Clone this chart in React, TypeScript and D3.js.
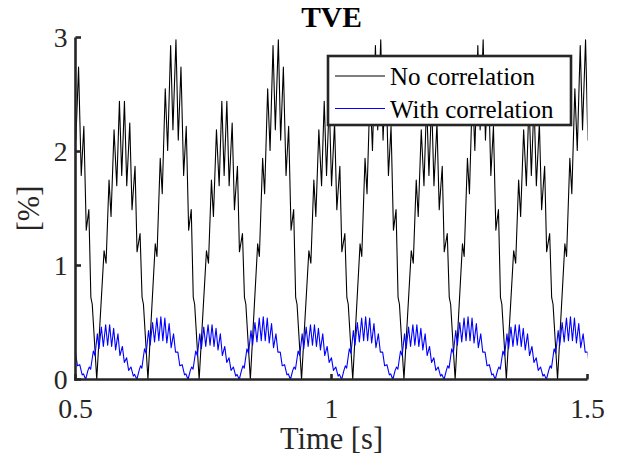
import { scaleLinear, line } from 'd3';

const width = 622;
const height = 467;
// plot box in px
const plot = { left: 75.5, right: 587.5, top: 37.5, bottom: 379.5 };

const timeDomain = [0.5, 1.5];
const valueDomain = [0, 3];
const timeTicks = [0.5, 1, 1.5];
const valueTicks = [0, 1, 2, 3];

// black trace: time of each zero trough (s) and which hump follows it
const noCorrStarts = [0.4415, 0.5415, 0.6415, 0.7415, 0.8415, 0.9415, 1.0415, 1.1415, 1.2415, 1.3415, 1.4415];
const noCorrKinds = ['B', 'A', 'B', 'A', 'B', 'A', 'B', 'A', 'B', 'A', 'B'];
// [ms after trough, %]
const noCorrShapeA = [
  [0, 0], [14.3, 1.13], [18.2, 1.02], [24.0, 1.75], [27.9, 1.43], [33.8, 2.19], [39.1, 1.7],
  [44.3, 2.44], [48.8, 1.79], [54.1, 2.44], [58.6, 1.7], [64.5, 2.25], [68.9, 1.49],
  [74.8, 1.87], [78.7, 1.12], [84.6, 1.28], [88.5, 0.72], [91.2, 0.66], [100, 0],
];
const noCorrShapeB = [
  [0, 0], [14.3, 1.19], [17.6, 1.08], [24.0, 1.94], [27.9, 1.63], [33.8, 2.55], [38.5, 2.01],
  [44.3, 2.93], [48.8, 2.19], [54.7, 2.98], [59.2, 2.1], [64.5, 2.74], [69.7, 1.79],
  [74.8, 2.22], [79.5, 1.31], [84.6, 1.49], [88.5, 0.72], [91.2, 0.66], [100, 0],
];

// blue trace: time of each zero dip (s) and hump size after it
const withCorrStarts = [0.4198, 0.5198, 0.6198, 0.7198, 0.8198, 0.9198, 1.0198, 1.1198, 1.2198, 1.3198, 1.4198];
const withCorrKinds = ['H', 'L', 'H', 'L', 'H', 'L', 'H', 'L', 'H', 'L', 'H'];
const withCorrShapeLow = [
  [0, 0], [4.5, 0.08], [7.2, 0.11], [9.8, 0.09], [15.0, 0.25], [18.2, 0.21], [22.9, 0.4],
  [26.0, 0.27], [30.7, 0.46], [34.6, 0.29], [39.1, 0.48], [43.0, 0.3], [46.9, 0.48],
  [50.8, 0.29], [54.7, 0.45], [58.6, 0.26], [63.1, 0.4], [67.0, 0.21], [71.7, 0.29],
  [75.6, 0.15], [80.1, 0.19], [84.0, 0.08], [88.5, 0.11], [93.2, 0.03], [95.7, 0.045], [100, 0],
];
const withCorrShapeHigh = [
  [0, 0], [4.5, 0.08], [7.2, 0.12], [9.8, 0.1], [15.0, 0.27], [18.2, 0.23], [22.9, 0.43],
  [26.0, 0.3], [30.7, 0.5], [34.6, 0.33], [39.1, 0.54], [43.0, 0.34], [46.9, 0.55],
  [50.8, 0.34], [54.7, 0.54], [58.6, 0.32], [63.1, 0.49], [67.0, 0.28], [71.7, 0.4],
  [75.6, 0.24], [80.1, 0.24], [84.0, 0.12], [88.5, 0.13], [93.2, 0.04], [95.7, 0.05], [100, 0],
];

const legendLabels = ['No correlation', 'With correlation'];
const legendColors = ['#000000', '#0000ff'];

const axisColor = '#262626';
const font = '"Liberation Serif", "Times New Roman", serif';

function buildSeries(starts, kinds, shapes) {
  const pts = [];
  starts.forEach((s, i) => {
    const shape = shapes[kinds[i]];
    shape.forEach(([ms, v], j) => {
      if (j === shape.length - 1 && i < starts.length - 1) return;
      pts.push([s + ms / 1000, v]);
    });
  });
  return pts;
}

export default function App() {
  const x = scaleLinear().domain(timeDomain).range([plot.left, plot.right]);
  const y = scaleLinear().domain(valueDomain).range([plot.bottom, plot.top]);

  const noCorr = buildSeries(noCorrStarts, noCorrKinds, { A: noCorrShapeA, B: noCorrShapeB });
  const withCorr = buildSeries(withCorrStarts, withCorrKinds, { L: withCorrShapeLow, H: withCorrShapeHigh });

  const path = line()
    .x((d) => x(d[0]))
    .y((d) => y(d[1]));

  const lg = { x: 328, y: 56, w: 243, h: 69 };

  return (
    <svg
      width={width}
      height={height}
      style={{ position: 'absolute', left: 0, top: 0, background: '#fff' }}
      fontFamily={font}
    >
      <defs>
        <clipPath id="plotClip">
          <rect x={plot.left} y={plot.top - 1} width={plot.right - plot.left} height={plot.bottom - plot.top + 1} />
        </clipPath>
      </defs>

      <g clipPath="url(#plotClip)" fill="none" strokeLinejoin="round">
        <path d={path(noCorr)} stroke={legendColors[0]} strokeWidth={1.1} />
        <path d={path(withCorr)} stroke={legendColors[1]} strokeWidth={1.1} />
      </g>

      {/* axes */}
      <g stroke={axisColor} strokeWidth={2.6} fill="none">
        <line x1={plot.left} x2={plot.left} y1={plot.top} y2={plot.bottom + 1.3} />
        <line x1={plot.left - 1.3} x2={plot.right} y1={plot.bottom} y2={plot.bottom} />
        {valueTicks.map((v) => (
          <line key={v} x1={plot.left} x2={plot.left + 5.5} y1={y(v)} y2={y(v)} />
        ))}
        {timeTicks.map((t) => (
          <line key={t} x1={x(t)} x2={x(t)} y1={plot.bottom} y2={plot.bottom - 5.5} />
        ))}
      </g>

      <g fill={axisColor} fontSize={27.7}>
        {valueTicks.map((v) => (
          <text key={v} x={plot.left - 8} y={y(v)} dy="0.34em" textAnchor="end">
            {v}
          </text>
        ))}
        {timeTicks.map((t) => (
          <text key={t} x={x(t)} y={418} textAnchor="middle">
            {t}
          </text>
        ))}
      </g>

      <text x={(plot.left + plot.right) / 2} y={449} textAnchor="middle" fontSize={30.5} fill={axisColor}>
        Time [s]
      </text>
      <text
        transform={`translate(39, ${(plot.top + plot.bottom) / 2}) rotate(-90)`}
        textAnchor="middle"
        fontSize={30.5}
        fill={axisColor}
      >
        [%]
      </text>
      <text x={(plot.left + plot.right) / 2} y={26.5} textAnchor="middle" fontSize={29.5} fontWeight="bold" fill="#000">
        TVE
      </text>

      {/* legend */}
      <rect x={lg.x} y={lg.y} width={lg.w} height={lg.h} fill="#fff" stroke={axisColor} strokeWidth={2.6} />
      {legendLabels.map((label, i) => (
        <g key={label}>
          <line x1={335} x2={385} y1={76 + i * 32.5} y2={76 + i * 32.5} stroke={legendColors[i]} strokeWidth={1.1} />
          <text x={390} y={85 + i * 33} fontSize={25} fill="#000">
            {label}
          </text>
        </g>
      ))}
    </svg>
  );
}
